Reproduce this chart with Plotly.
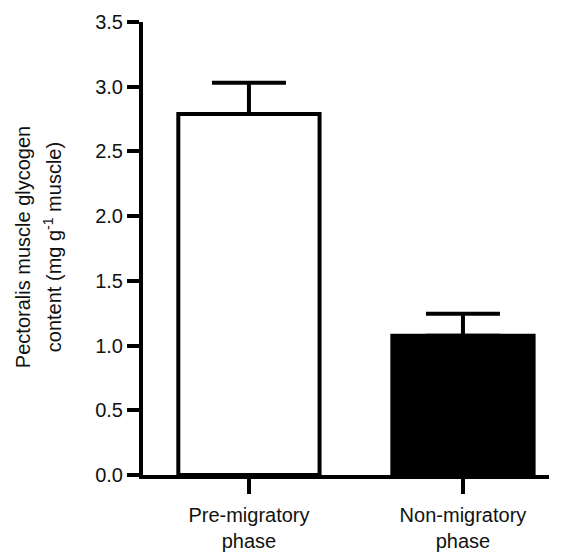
import plotly.graph_objects as go

categories = ["Pre-migratory<br>phase", "Non-migratory<br>phase"]
glycogen = [2.79, 1.075]
sem = [0.24, 0.17]
bar_colors = ["#ffffff", "#000000"]
y_ticks = [0.0, 0.5, 1.0, 1.5, 2.0, 2.5, 3.0, 3.5]
y_title_lines = ["Pectoralis muscle glycogen", "content (mg g<sup>-1</sup> muscle)"]

FONT = "Liberation Sans, Arial, sans-serif"
TXT = "#111111"

fig = go.Figure()
fig.add_trace(go.Bar(
    x=[0, 1],
    y=glycogen,
    width=0.66,
    marker=dict(color=bar_colors, line=dict(color="black", width=4)),
    error_y=dict(type="data", array=sem, arrayminus=[0, 0], symmetric=False,
                 color="black", thickness=4, width=37),
    hoverinfo="skip",
))

title_x = [-0.2956, -0.224]
annotations = [
    dict(text=t, textangle=-90, xref="paper", yref="paper",
         x=xx, y=0.503, xanchor="center", yanchor="middle",
         showarrow=False, font=dict(size=20, family=FONT, color=TXT))
    for t, xx in zip(y_title_lines, title_x)
]

fig.update_layout(
    template="none",
    width=563, height=554,
    margin=dict(l=143, r=14, t=22, b=79, autoexpand=False),
    plot_bgcolor="white", paper_bgcolor="white",
    showlegend=False, hovermode=False,
    font=dict(family=FONT, size=20, color=TXT),
    xaxis=dict(
        range=[-0.495, 1.402], automargin=False,
        tickvals=[0, 1], ticktext=categories,
        showline=True, linecolor="black", linewidth=4,
        ticks="outside", ticklen=15, tickwidth=4, tickcolor="black",
        ticklabelstandoff=4,
        showgrid=False, zeroline=False, fixedrange=True,
        tickfont=dict(size=20),
    ),
    yaxis=dict(
        range=[0, 3.5], automargin=False,
        tickvals=y_ticks, tickformat=".1f",
        showline=True, linecolor="black", linewidth=4,
        ticks="outside", ticklen=12, tickwidth=4, tickcolor="black",
        showgrid=False, zeroline=False, fixedrange=True,
        tickfont=dict(size=20),
    ),
    annotations=annotations,
)

fig.write_html("out.html", config={"displayModeBar": False, "staticPlot": True},
               post_script="document.body.style.margin='0';")
